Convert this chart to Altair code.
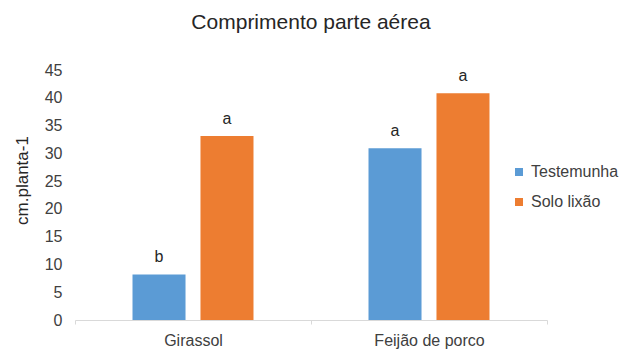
import altair as alt
import pandas as pd

culturas = ["Girassol", "Girassol", "Feijão de porco", "Feijão de porco"]
tratamentos = ["Testemunha", "Solo lixão", "Testemunha", "Solo lixão"]
valores = [8.2, 33.1, 30.9, 40.8]
letras = ["b", "a", "a", "a"]

ordem_culturas = ["Girassol", "Feijão de porco"]
ordem_trat = ["Testemunha", "Solo lixão"]
cores = ["#5B9BD5", "#ED7D31"]

df = pd.DataFrame({"cultura": culturas, "tratamento": tratamentos,
                   "valor": valores, "letra": letras})

FONT = "Liberation Sans"
TXT = "#404040"

x = alt.X("cultura:N", sort=ordem_culturas,
          scale=alt.Scale(paddingInner=0, paddingOuter=0),
          axis=alt.Axis(title=None, labelAngle=0, tickBand="extent",
                        domainColor="#d9d9d9", tickColor="#d9d9d9", tickSize=4,
                        labelFontSize=16, labelColor=TXT, labelPadding=8,
                        labelFont=FONT))
xo = alt.XOffset("tratamento:N", sort=ordem_trat,
                 scale=alt.Scale(paddingInner=0.22, paddingOuter=0.846))
y = alt.Y("valor:Q", scale=alt.Scale(domain=[0, 45]),
          axis=alt.Axis(values=list(range(0, 50, 5)), grid=False, domain=False,
                        ticks=False, title="cm.planta-1", labelFontSize=16,
                        labelColor=TXT, labelPadding=13, labelFont=FONT,
                        titleFont=FONT, titleFontSize=17, titleFontWeight="normal",
                        titleColor="#262626", titleX=-53, titleY=110,
                        titleAngle=-90, titleAlign="center", titleBaseline="middle"))

bars = alt.Chart(df).mark_bar().encode(
    x=x, xOffset=xo, y=y,
    color=alt.Color("tratamento:N", sort=ordem_trat,
                    scale=alt.Scale(domain=ordem_trat, range=cores),
                    legend=alt.Legend(title=None, orient="none", legendX=436,
                                      legendY=94, symbolType="square",
                                      symbolSize=64, symbolStrokeWidth=0,
                                      labelFontSize=16, labelColor=TXT,
                                      labelFont=FONT, rowPadding=14,
                                      labelOffset=4)),
)

text = alt.Chart(df).mark_text(baseline="bottom", dy=-9, fontSize=16,
                               font=FONT, color="#262626").encode(
    x=x, xOffset=xo, y=y, text="letra:N"
)

chart = (bars + text).properties(
    width=472, height=250,
    title=alt.TitleParams("Comprimento parte aérea", fontSize=21,
                          fontWeight="normal", color="#262626", font=FONT,
                          offset=29),
    autosize=alt.AutoSizeParams(type="none"),
    padding={"left": 75, "top": 70, "right": 75, "bottom": 30},
).configure_view(stroke=None)

chart.save("out.html", embed_options={"renderer": "svg", "actions": False})
